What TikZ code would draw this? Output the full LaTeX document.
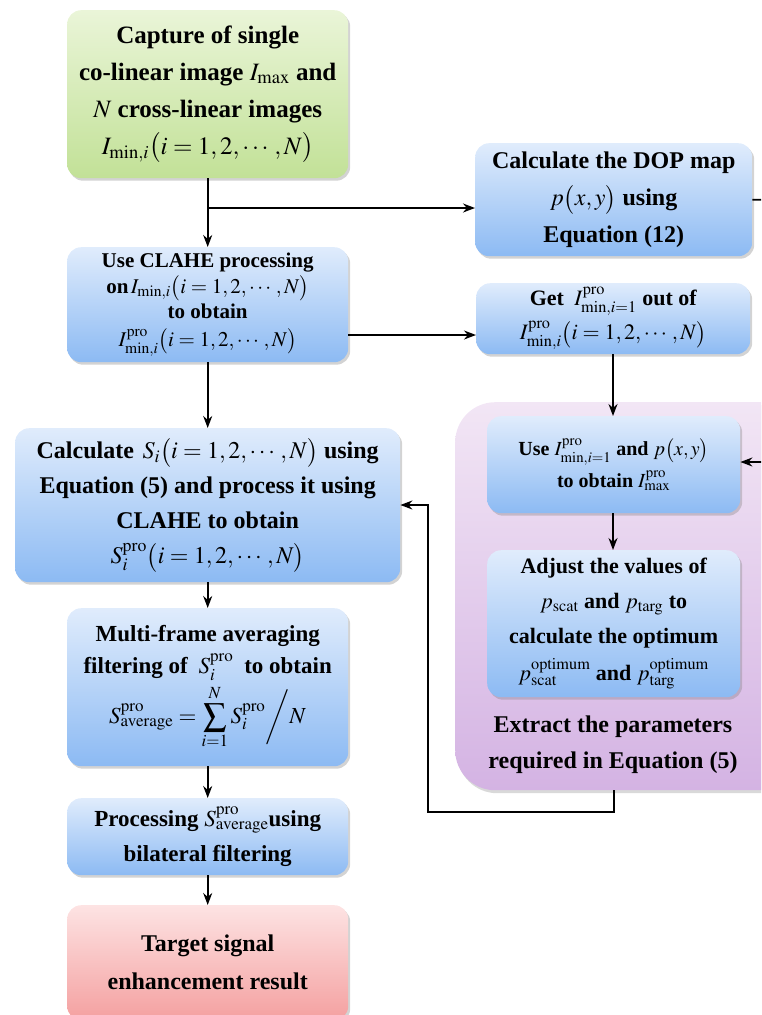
\documentclass[tikz,border=0pt]{standalone}
\usepackage{mathptmx}
\usepackage[no-math]{fontspec}
\setmainfont{Liberation Serif}
\usepackage{amsmath}
\usepackage{xcolor}
\usepackage{tikz}
\usetikzlibrary{shadows,arrows.meta}

\definecolor{bluetop}{HTML}{E0ECFC}
\definecolor{bluebot}{HTML}{8CBAF3}
\definecolor{greentop}{HTML}{EAF5D8}
\definecolor{greenbot}{HTML}{C2E197}
\definecolor{redtop}{HTML}{FDE3E3}
\definecolor{redbot}{HTML}{F4A0A0}
\definecolor{purpletop}{HTML}{F2E6F5}
\definecolor{purplebot}{HTML}{D4B3E3}

\begin{document}
\begin{tikzpicture}[x=1pt, y=-1pt, >={Stealth[length=12pt, width=9pt]},
  box/.style={rounded corners=14pt, align=center, inner sep=0pt,
    font=\bfseries, drop shadow={opacity=0.35, shadow xshift=2pt, shadow yshift=-2.5pt}},
  bluebox/.style={box, top color=bluetop, bottom color=bluebot},
  greenbox/.style={box, top color=greentop, bottom color=greenbot},
  redbox/.style={box, top color=redtop, bottom color=redbot},
  purplebox/.style={rounded corners=40pt, inner sep=0pt, top color=purpletop, bottom color=purplebot,
    drop shadow={opacity=0.3, shadow xshift=2pt, shadow yshift=-3pt}},
  conn/.style={line width=1.6pt, ->}]

  \clip (0,0) rectangle (761,1015);
  \useasboundingbox (0,0) rectangle (761,1015);

  % ── left column ──────────────────────────────────────────────────────────
  \node[greenbox, minimum width=281pt, minimum height=168pt, anchor=north west,
        font=\bfseries\fontsize{25}{37}\selectfont] (capture) at (67,10)
    {Capture of single\\ co-linear image $I_{\mathrm{max}}$ and\\ $N$ cross-linear images\\
     $I_{\mathrm{min},i}\bigl(i=1,2,\cdots,N\bigr)$};

  \node[bluebox, minimum width=281pt, minimum height=115pt, anchor=north west,
        font=\bfseries\fontsize{21}{26}\selectfont] (clahe) at (67,247)
    {Use CLAHE processing\\ on$\,I_{\mathrm{min},i}\bigl(i=1,2,\cdots,N\bigr)$\\[-1pt] to obtain\\[2pt]
     $I^{\mathrm{pro}}_{\mathrm{min},i}\bigl(i=1,2,\cdots,N\bigr)$};

  \node[bluebox, minimum width=385pt, minimum height=154pt, anchor=north west,
        font=\bfseries\fontsize{24}{35}\selectfont] (calcs) at (15,428)
    {Calculate $\,S_i\bigl(i=1,2,\cdots,N\bigr)$ using\\ Equation (5) and process it using\\
     CLAHE to obtain\\ $S^{\mathrm{pro}}_i\bigl(i=1,2,\cdots,N\bigr)$};

  \node[bluebox, minimum width=281pt, minimum height=158pt, anchor=north west,
        font=\bfseries\fontsize{23}{32}\selectfont] (average) at (67,608)
    {Multi-frame averaging\\ filtering of $\;S^{\mathrm{pro}}_i\;$ to obtain\\[4pt]
     $S^{\mathrm{pro}}_{\mathrm{average}}=\displaystyle\sum_{i=1}^{N}S^{\mathrm{pro}}_i\bigg/N$};

  \node[bluebox, minimum width=281pt, minimum height=77pt, anchor=north west,
        font=\bfseries\fontsize{23}{35}\selectfont] (bilateral) at (67,798)
    {Processing $S^{\mathrm{pro}}_{\mathrm{average}}$using\\ bilateral filtering};

  \node[redbox, minimum width=281pt, minimum height=115pt, anchor=north west,
        font=\bfseries\fontsize{24}{38}\selectfont] (result) at (67,905)
    {Target signal\\ enhancement result};

  % ── right column ─────────────────────────────────────────────────────────
  \node[bluebox, minimum width=277pt, minimum height=113pt, anchor=north west,
        font=\bfseries\fontsize{24}{37}\selectfont] (dop) at (475,143)
    {Calculate the DOP map\\ $p\bigl(x,y\bigr)$ using\\ Equation (12)};

  \node[bluebox, minimum width=274pt, minimum height=71pt, anchor=north west,
        font=\bfseries\fontsize{22}{34}\selectfont] (getone) at (476,283)
    {Get $\;I^{\mathrm{pro}}_{\mathrm{min},i=1}$ out of\\ $I^{\mathrm{pro}}_{\mathrm{min},i}\bigl(i=1,2,\cdots,N\bigr)$};

  \node[purplebox, minimum width=345pt, minimum height=388pt, anchor=north west] (extract) at (455,402) {};

  \node[bluebox, minimum width=253pt, minimum height=97pt, anchor=north west,
        font=\bfseries\fontsize{20}{32}\selectfont] (useone) at (487,416)
    {Use $I^{\mathrm{pro}}_{\mathrm{min},i=1}$ and $p\bigl(x,y\bigr)$\\ to obtain $I^{\mathrm{pro}}_{\mathrm{max}}$};

  \node[bluebox, minimum width=253pt, minimum height=147pt, anchor=north west,
        font=\bfseries\fontsize{22}{35}\selectfont] (adjust) at (487,550)
    {Adjust the values of\\ $p_{\mathrm{scat}}$ and $p_{\mathrm{targ}}$ to\\ calculate the optimum\\[2pt]
     $p^{\mathrm{optimum}}_{\mathrm{scat}}$ and $p^{\mathrm{optimum}}_{\mathrm{targ}}$};

  \node[align=center, font=\bfseries\fontsize{24}{36}\selectfont] (extracttxt) at (613,745)
    {Extract the parameters\\ required in Equation (5)};

  % ── connectors ───────────────────────────────────────────────────────────
  \draw[conn] (capture) -- (clahe);
  \draw[conn] (capture.south |- 0,208) -- (dop.west |- 0,208);
  \draw[conn] (dop.east) -- (790,200) -- (790,462) -- (useone.east |- 0,462);
  \draw[conn] (clahe.east |- 0,335) -- (getone.west |- 0,335);
  \draw[conn] (getone.south -| 613,0) -- (useone.north -| 613,0);
  \draw[conn] (useone.south -| 613,0) -- (adjust.north -| 613,0);
  \draw[conn] (extract.south -| 614,0) -- (614,812) -- (428,812) -- (428,505) -- (calcs.east |- 0,505);
  \draw[conn] (clahe) -- (calcs.north -| clahe);
  \draw[conn] (calcs.south -| average) -- (average);
  \draw[conn] (average) -- (bilateral);
  \draw[conn] (bilateral) -- (result);

\end{tikzpicture}
\end{document}
